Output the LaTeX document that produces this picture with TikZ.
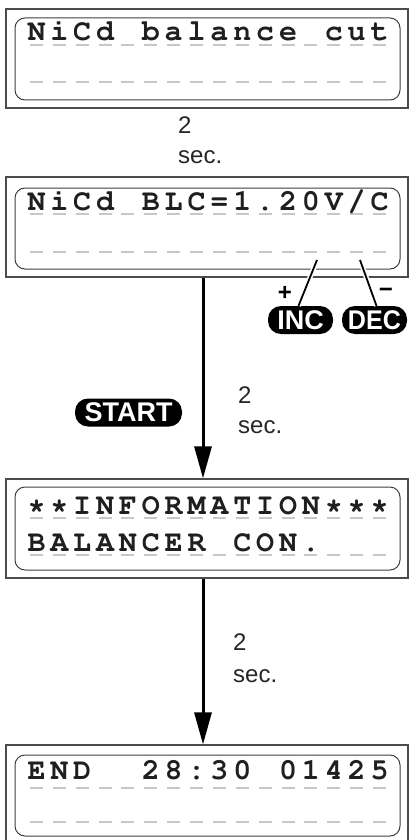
\documentclass[tikz,border=0pt]{standalone}
\usepackage{fontspec}
\setmainfont{Liberation Sans}
\newcommand\lcdfont{\fontencoding{T1}\fontfamily{pcr}\fontseries{b}\selectfont}
\usetikzlibrary{arrows.meta}
\newcommand\lcdline[3]{%
  \foreach \c [count=\i] in {#3} {\node[lcd] (#2\i) at ({36.5+(\i-1)*22.87},#1) {\c};}}
\newcommand\dashrow[1]{%
  \foreach \i in {0,...,15} {\draw[dashline] ({30+\i*22.87},#1) -- ++(13,0);}}
\tikzset{
  outerbox/.style={draw=black!70, line width=1.2pt, minimum width=402pt, inner sep=0pt},
  innerbox/.style={draw=black!75, line width=1pt, rounded corners=10pt, minimum width=385pt, inner sep=0pt},
  dashline/.style={draw=black!22, line width=1.3pt},
  lcd/.style={font=\lcdfont\fontsize{30}{30}\selectfont, inner sep=0pt, anchor=base, text=black!88},
  flowarrow/.style={line width=3pt, -{Triangle[length=32pt,width=17pt]}},
  secnote/.style={font=\fontsize{24}{28}\selectfont, inner sep=0pt, anchor=base west, text=black!85},
  btn/.style={fill=black, text=white, font=\bfseries\fontsize{27}{27}\selectfont, rounded corners=13pt, minimum height=28pt, inner sep=0pt},
  keyline/.style={line width=1.8pt, draw=black},
  keygap/.style={line width=5pt, draw=white},
  signtext/.style={font=\bfseries\fontsize{24}{24}\selectfont, inner sep=0pt}
}
\begin{document}
\begin{tikzpicture}[x=1pt,y=-1pt]
\useasboundingbox (0,0) rectangle (411,840);
\fill[white] (0,0) rectangle (411,840);
\begin{scope}
\clip (0,0) rectangle (411,840);
% box 1
\node[outerbox, minimum height=99pt] (box1) at (207,58.5) {};
\node[innerbox, minimum height=82pt] (in1) at (207.5,59) {};
\dashrow{45}\dashrow{82}
\lcdline{41}{ba}{N,i,C,d,{},b,a,l,a,n,c,e,{},c,u,t}
% note 1
\node[secnote] (n1a) at (178,134) {2};
\node[secnote] (n1b) at (178,163) {sec.};
% box 2
\node[outerbox, minimum height=100pt] (box2) at (207,227) {};
\node[innerbox, minimum height=81pt] (in2) at (207.5,228.5) {};
\dashrow{214}\dashrow{252}
\lcdline{210}{bb}{N,i,C,d,{},B,L,C,=,1,{.},2,0,V,/,C}
% keys
\node[btn, minimum width=65pt] (inc) at (300.5,320) {INC};
\node[btn, minimum width=65pt] (dec) at (374.5,320) {\scalebox{0.93}[1]{DEC}};
\coordinate (incp) at (317,260);
\coordinate (decp) at (360,260);
\draw[keygap] (incp) -- ([xshift=-2pt]inc.north);
\draw[keygap] (decp) -- ([xshift=2pt]dec.north);
\draw[keyline] (incp) -- ([xshift=-2pt]inc.north);
\draw[keyline] (decp) -- ([xshift=2pt]dec.north);
\node[signtext] (plus) at (285,293) {+};
\node[signtext] (minus) at (386,293) {−};
% start
\node[btn, minimum width=107pt] (start) at (128.5,412.5) {START};
\node[secnote] (n2a) at (238,403) {2};
\node[secnote] (n2b) at (238,433) {sec.};
% box 3
\node[outerbox, minimum height=99pt] (box3) at (207,528.5) {};
\node[innerbox, minimum height=83pt] (in3) at (207.5,528.5) {};
\dashrow{518}\dashrow{555}
\lcdline{514}{bc}{*,*,I,N,F,O,R,M,A,T,I,O,N,*,*,*}
\lcdline{551}{bd}{B,A,L,A,N,C,E,R,{},C,O,N,{.}}
\draw[flowarrow] ([xshift=-4pt]box2.south) -- ([xshift=-4pt]box3.north);
% note 3
\node[secnote] (n3a) at (233,650) {2};
\node[secnote] (n3b) at (233,682) {sec.};
% box 4
\node[outerbox, minimum height=100pt] (box4) at (207,795) {};
\node[innerbox, minimum height=81pt] (in4) at (207.5,795.5) {};
\dashrow{788}\dashrow{822}
\lcdline{779}{be}{E,N,D,{},{},2,8,:,3,0,{},0,1,4,2,5}
\draw[flowarrow] ([xshift=-4pt]box3.south) -- ([xshift=-4pt]box4.north);
\end{scope}
\end{tikzpicture}
\end{document}
